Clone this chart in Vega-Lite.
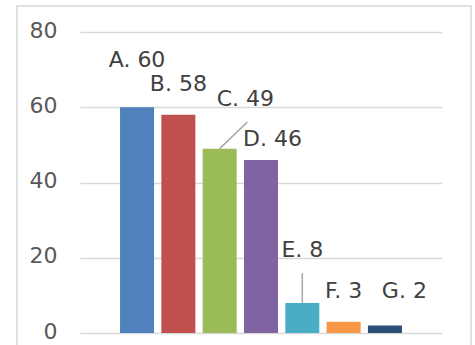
{
  "$schema": "https://vega.github.io/schema/vega-lite/v6.json",
  "width": 454,
  "height": 346,
  "autosize": {"type": "none"},
  "padding": {"left": 17, "top": 6, "right": 4, "bottom": 0},
  "background": "white",
  "config": {"view": {"stroke": "#d9d9d9", "strokeWidth": 1.5}},
  "datasets": {
    "bars": [
      {"cat": "A", "idx": 1, "value": 60, "label": "A. 60", "labelX": 1.0, "labelY": 70.7},
      {"cat": "B", "idx": 2, "value": 58, "label": "B. 58", "labelX": 2.0, "labelY": 64.3},
      {"cat": "C", "idx": 3, "value": 49, "label": "C. 49", "labelX": 3.62, "labelY": 60.3},
      {"cat": "D", "idx": 4, "value": 46, "label": "D. 46", "labelX": 4.28, "labelY": 49.7},
      {"cat": "E", "idx": 5, "value": 8, "label": "E. 8", "labelX": 5.0, "labelY": 20.2},
      {"cat": "F", "idx": 6, "value": 3, "label": "F. 3", "labelX": 6.0, "labelY": 9.3},
      {"cat": "G", "idx": 7, "value": 2, "label": "G. 2", "labelX": 7.47, "labelY": 9.3}
    ],
    "leaders": [
      {"cat": "C", "x": 3, "y": 49, "x2": 3.67, "y2": 56.1},
      {"cat": "E", "x": 5, "y": 8, "x2": 5, "y2": 15.9}
    ]
  },
  "layer": [
    {
      "data": {"name": "bars"},
      "mark": {"type": "bar", "width": 34},
      "encoding": {
        "x": {"field": "idx", "type": "quantitative", "scale": {"domain": [-0.26, 8.26], "range": [63, 425], "nice": false, "zero": false}, "axis": null},
        "y": {
          "field": "value", "type": "quantitative",
          "scale": {"domain": [0, 80], "range": [327, 26], "nice": false},
          "axis": {
            "values": [0, 20, 40, 60, 80],
            "offset": -63,
            "domain": false,
            "ticks": false,
            "tickSize": 0,
            "labelPadding": 23,
            "labelFont": "DejaVu Sans",
            "labelFontSize": 22,
            "labelColor": "#595959",
            "labelOffset": -2,
            "grid": true,
            "gridColor": "#d9d9d9",
            "gridWidth": 1.5,
            "title": null
          }
        },
        "color": {
          "field": "cat", "type": "nominal",
          "scale": {"domain": ["A", "B", "C", "D", "E", "F", "G"], "range": ["#4f81bd", "#c0504d", "#9bbb59", "#8064a2", "#4bacc6", "#f79646", "#2c4d75"]},
          "legend": null
        }
      }
    },
    {
      "data": {"name": "leaders"},
      "mark": {"type": "rule", "color": "#a6a6a6", "strokeWidth": 1.5},
      "encoding": {
        "x": {"field": "x", "type": "quantitative"},
        "y": {"field": "y", "type": "quantitative"},
        "x2": {"field": "x2"},
        "y2": {"field": "y2"}
      }
    },
    {
      "data": {"name": "bars"},
      "mark": {"type": "text", "font": "DejaVu Sans", "fontSize": 22, "color": "#404040", "align": "center", "baseline": "alphabetic"},
      "encoding": {
        "x": {"field": "labelX", "type": "quantitative"},
        "y": {"field": "labelY", "type": "quantitative"},
        "text": {"field": "label"}
      }
    }
  ]
}
